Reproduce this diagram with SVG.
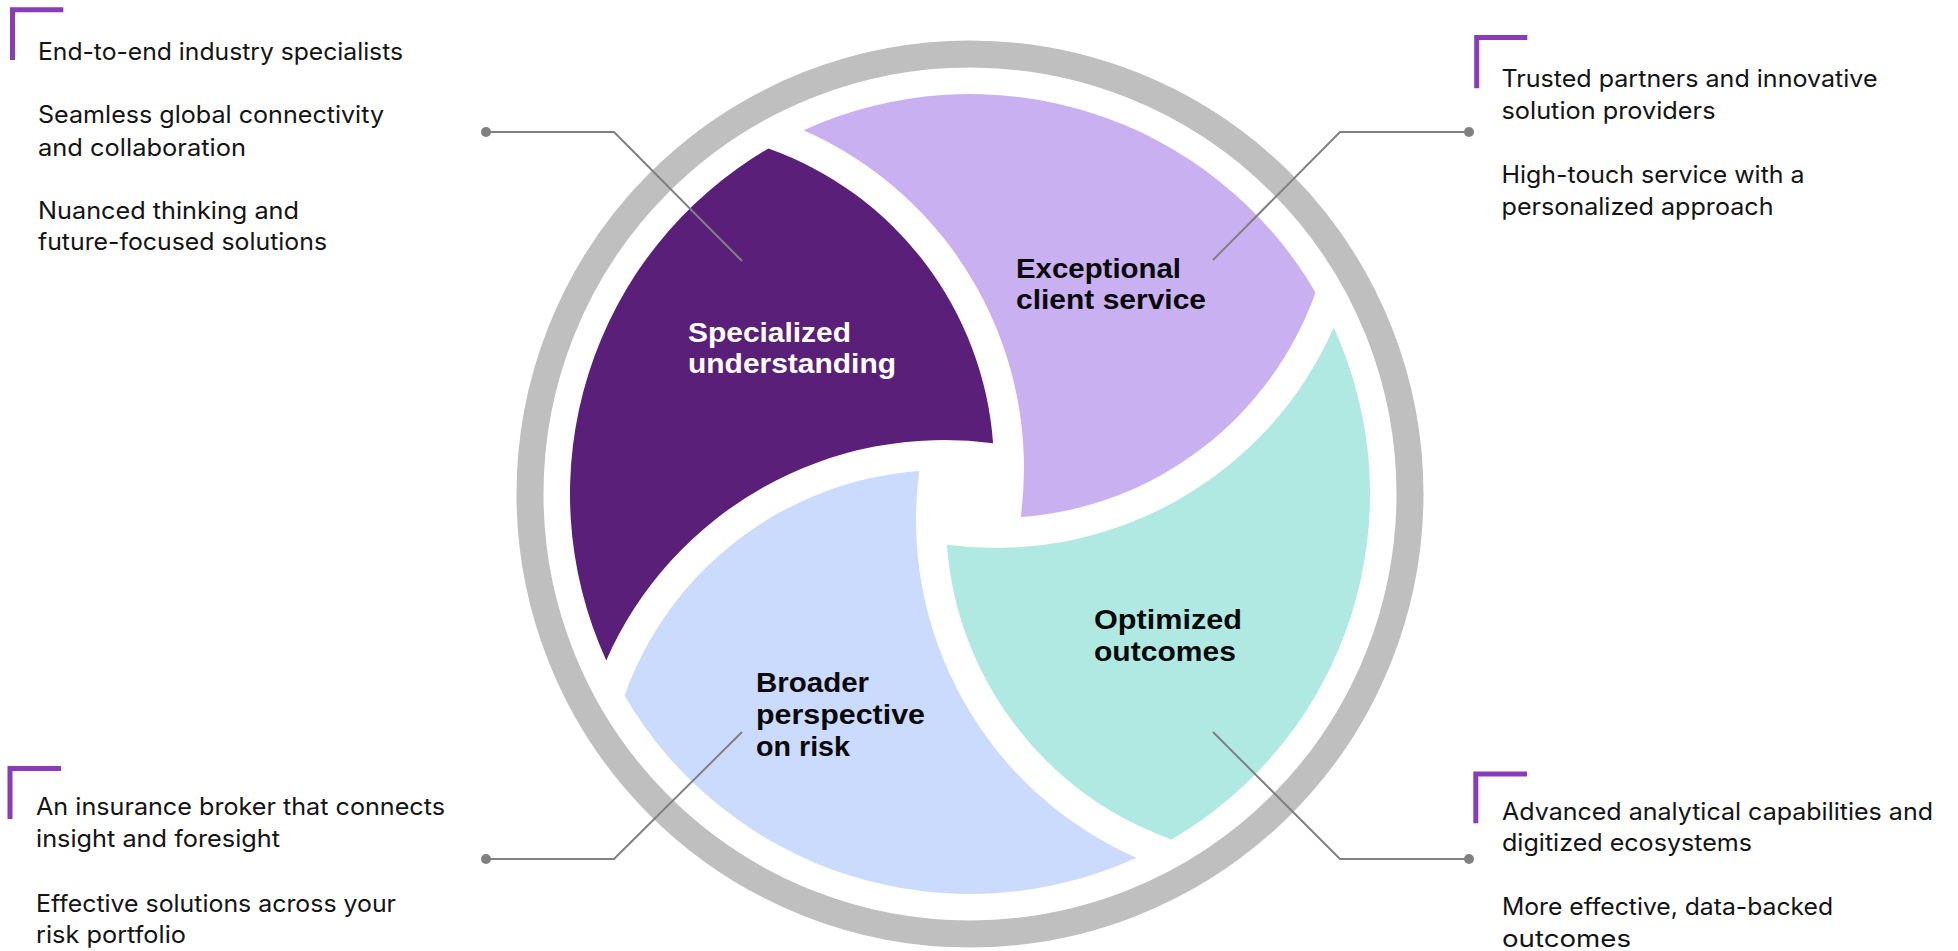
<svg xmlns="http://www.w3.org/2000/svg" width="1958" height="951" viewBox="0 0 1958 951">
<style>
.body{font-family:Inter,"Liberation Sans",Arial,sans-serif;font-size:24px;fill:#141414}
.lbl{font-family:"Liberation Sans",Arial,sans-serif;font-size:28px;font-weight:bold;fill:#0a0a0a}
.bracket{fill:none;stroke:#8a3bb8;stroke-width:5;stroke-linejoin:miter;stroke-linecap:butt}
.conn{fill:none;stroke:#808080;stroke-width:2;marker-start:url(#dot)}
</style>
<defs>
<marker id="dot" markerWidth="12" markerHeight="12" refX="6" refY="6" markerUnits="userSpaceOnUse">
<circle cx="6" cy="6" r="5" fill="#808080"/>
</marker>
</defs>
<rect width="1958" height="951" fill="#ffffff"/>
<g id="ring">
<circle cx="970" cy="494" r="440" fill="none" stroke="#bfbfbf" stroke-width="27"/>
</g>
<g id="node-specialized">
<path transform="rotate(-90 970 494)" fill="#5a2079" d="M 803.6,130.25 A 400 400 0 0 1 1315.5,292.4 A 339 339 0 0 1 1020.7,517.1 A 369 369 0 0 0 803.6,130.25 Z"/>
<text class="lbl" style="fill:#ffffff" x="688" y="342" textLength="163" lengthAdjust="spacingAndGlyphs">Specialized</text>
<text class="lbl" style="fill:#ffffff" x="688" y="373" textLength="208" lengthAdjust="spacingAndGlyphs">understanding</text>
</g>
<g id="node-exceptional">
<path fill="#c9b0f0" d="M 803.6,130.25 A 400 400 0 0 1 1315.5,292.4 A 339 339 0 0 1 1020.7,517.1 A 369 369 0 0 0 803.6,130.25 Z"/>
<text class="lbl" x="1016" y="278" textLength="165" lengthAdjust="spacingAndGlyphs">Exceptional</text>
<text class="lbl" x="1016" y="309" textLength="190" lengthAdjust="spacingAndGlyphs">client service</text>
</g>
<g id="node-optimized">
<path transform="rotate(90 970 494)" fill="#afe9e2" d="M 803.6,130.25 A 400 400 0 0 1 1315.5,292.4 A 339 339 0 0 1 1020.7,517.1 A 369 369 0 0 0 803.6,130.25 Z"/>
<text class="lbl" x="1094" y="629" textLength="148" lengthAdjust="spacingAndGlyphs">Optimized</text>
<text class="lbl" x="1094" y="661" textLength="142" lengthAdjust="spacingAndGlyphs">outcomes</text>
</g>
<g id="node-broader">
<path transform="rotate(180 970 494)" fill="#cadbfd" d="M 803.6,130.25 A 400 400 0 0 1 1315.5,292.4 A 339 339 0 0 1 1020.7,517.1 A 369 369 0 0 0 803.6,130.25 Z"/>
<text class="lbl" x="756" y="692" textLength="113" lengthAdjust="spacingAndGlyphs">Broader</text>
<text class="lbl" x="756" y="724" textLength="169" lengthAdjust="spacingAndGlyphs">perspective</text>
<text class="lbl" x="756" y="756" textLength="94" lengthAdjust="spacingAndGlyphs">on risk</text>
</g>
<g id="connectors">
<polyline class="conn" points="486,132 614,132 742,261"/>
<polyline class="conn" points="1469,132 1340,132 1213,260"/>
<polyline class="conn" points="486,859 614,859 742,732"/>
<polyline class="conn" points="1469,859 1340,859 1213,732"/>
</g>
<g id="text-top-left">
<path class="bracket" d="M 12.5,60 V 9.7 H 63.3"/>
<text class="body" x="38" y="60" textLength="365" lengthAdjust="spacingAndGlyphs">End-to-end industry specialists</text>
<text class="body" x="38" y="123" textLength="346" lengthAdjust="spacingAndGlyphs">Seamless global connectivity</text>
<text class="body" x="38" y="156" textLength="208" lengthAdjust="spacingAndGlyphs">and collaboration</text>
<text class="body" x="38" y="219" textLength="261" lengthAdjust="spacingAndGlyphs">Nuanced thinking and</text>
<text class="body" x="38" y="250" textLength="289" lengthAdjust="spacingAndGlyphs">future-focused solutions</text>
</g>
<g id="text-top-right">
<path class="bracket" d="M 1476.7,88.3 V 37.5 H 1527.3"/>
<text class="body" x="1501.5" y="86.7" textLength="376" lengthAdjust="spacingAndGlyphs">Trusted partners and innovative</text>
<text class="body" x="1501.5" y="119.3" textLength="214" lengthAdjust="spacingAndGlyphs">solution providers</text>
<text class="body" x="1501.5" y="183.3" textLength="303" lengthAdjust="spacingAndGlyphs">High-touch service with a</text>
<text class="body" x="1501.5" y="215" textLength="272" lengthAdjust="spacingAndGlyphs">personalized approach</text>
</g>
<g id="text-bottom-left">
<path class="bracket" d="M 10,819 V 768.5 H 61"/>
<text class="body" x="36" y="815" textLength="409" lengthAdjust="spacingAndGlyphs">An insurance broker that connects</text>
<text class="body" x="36" y="847.3" textLength="244" lengthAdjust="spacingAndGlyphs">insight and foresight</text>
<text class="body" x="36" y="911.7" textLength="360" lengthAdjust="spacingAndGlyphs">Effective solutions across your</text>
<text class="body" x="36" y="943.3" textLength="150" lengthAdjust="spacingAndGlyphs">risk portfolio</text>
</g>
<g id="text-bottom-right">
<path class="bracket" d="M 1475.8,823.3 V 774 H 1527"/>
<text class="body" x="1502" y="820" textLength="431" lengthAdjust="spacingAndGlyphs">Advanced analytical capabilities and</text>
<text class="body" x="1502" y="850.7" textLength="250" lengthAdjust="spacingAndGlyphs">digitized ecosystems</text>
<text class="body" x="1502" y="915" textLength="331" lengthAdjust="spacingAndGlyphs">More effective, data-backed</text>
<text class="body" x="1502" y="946.7" textLength="129" lengthAdjust="spacingAndGlyphs">outcomes</text>
</g>
</svg>
